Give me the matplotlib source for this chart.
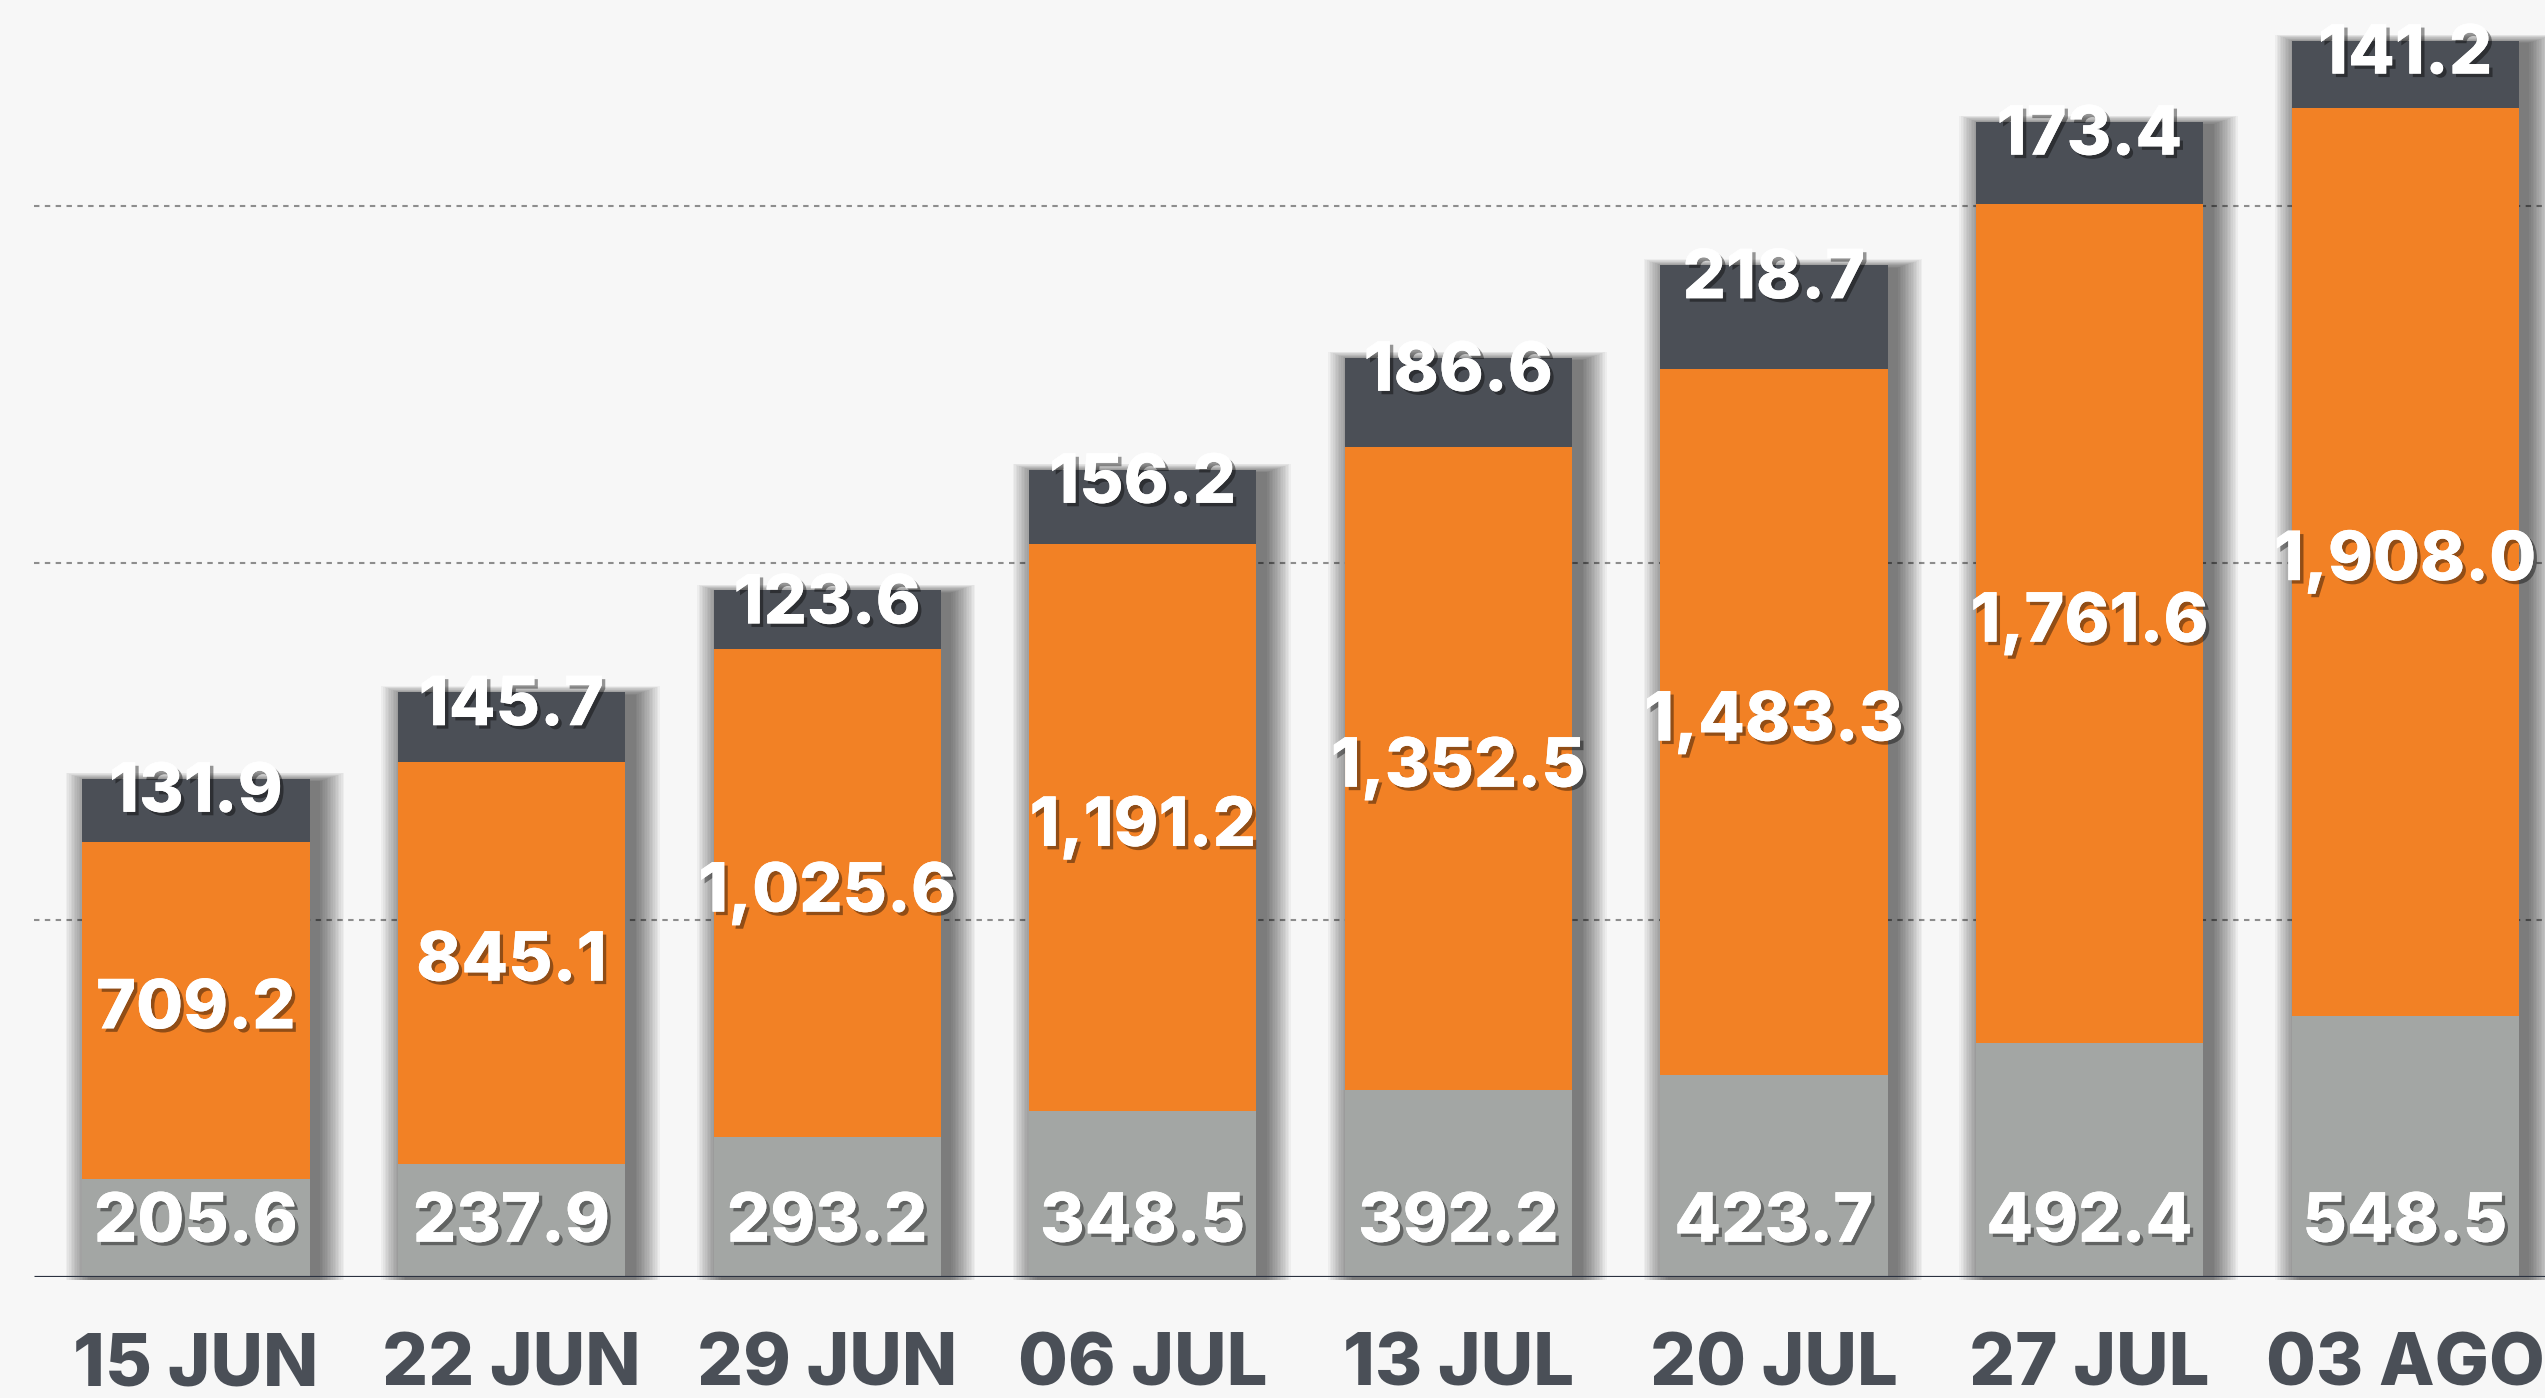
import matplotlib
matplotlib.use("Agg")
import matplotlib.pyplot as plt
import matplotlib.patheffects as pe
import numpy as np

categories = ["15 JUN", "22 JUN", "29 JUN", "06 JUL", "13 JUL", "20 JUL", "27 JUL", "03 AGO"]
bottom_vals = [205.6, 237.9, 293.2, 348.5, 392.2, 423.7, 492.4, 548.5]
middle_vals = [709.2, 845.1, 1025.6, 1191.2, 1352.5, 1483.3, 1761.6, 1908.0]
top_vals = [131.9, 145.7, 123.6, 156.2, 186.6, 218.7, 173.4, 141.2]
grid_vals = [750, 1500, 2250]

C_BOTTOM = "#a3a6a4"
C_MIDDLE = "#f28125"
C_TOP = "#4b4f56"
C_BG = "#f7f7f7"
C_TICK = "#4a4f57"

plt.rcParams['font.family'] = ['Inter', 'DejaVu Sans']

W, H = 2545, 1398
fig = plt.figure(figsize=(W / 100, H / 100), dpi=100, facecolor=C_BG)
base_px = 1277
ax = fig.add_axes([0, (H - base_px) / H, 1, base_px / H])
ax.set_facecolor(C_BG)

x = np.arange(len(categories))
b = np.array(bottom_vals)
m = np.array(middle_vals)
t = np.array(top_vals)
tot = b + m + t

px_per_x = 315.6
x0_px = 196
ax.set_xlim(-x0_px / px_per_x, (W - x0_px) / px_per_x)
ax.set_ylim(0, 2683)
ypx = 2683 / base_px  # data units per pixel
xpx = 1 / px_per_x

width = 0.72

# soft drop shadow (layered translucent bars)
for k in range(16):
    e = (k + 1) * 1.6
    ax.bar(x + 9 * xpx, tot + e * 0.35 * ypx, width=width + 2 * e * xpx,
           bottom=-3 * ypx, color="black", alpha=0.04, linewidth=0,
           zorder=1, clip_on=False)

ax.bar(x, b, width=width, color=C_BOTTOM, linewidth=0, zorder=3)
ax.bar(x, m, width=width, bottom=b, color=C_MIDDLE, linewidth=0, zorder=3)
ax.bar(x, t, width=width, bottom=b + m, color=C_TOP, linewidth=0, zorder=3)

# grid and baseline
xl = -0.5 - 4 * xpx
ax.hlines(grid_vals, xl, 8, colors="#8d8d8d", linewidth=1.5,
          linestyles=(0, (2.6, 2.6)), zorder=0.5)
ax.hlines([0], xl, 8, colors="#2b3240", linewidth=2.3, zorder=4)

fx = [pe.withSimplePatchShadow(offset=(2.5, -2.5), shadow_rgbFace="black", alpha=0.4),
      pe.Normal()]
fs = 49
for i in range(len(x)):
    ax.text(x[i], tot[i] - 15 * ypx, f"{t[i]:,.1f}", ha="center", va="center",
            color="white", fontsize=fs, fontweight="heavy", zorder=5, path_effects=fx)
    ax.text(x[i], b[i] + m[i] / 2, f"{m[i]:,.1f}", ha="center", va="center",
            color="white", fontsize=fs, fontweight="heavy", zorder=5, path_effects=fx)
    ax.text(x[i], 112, f"{b[i]:,.1f}", ha="center", va="center",
            color="white", fontsize=fs, fontweight="heavy", zorder=5, path_effects=fx)

ax.set_xticks(x)
ax.set_xticklabels(categories, fontsize=52, fontweight="heavy", color=C_TICK)
ax.tick_params(axis="x", length=0, pad=40)
ax.set_yticks([])
for s in ax.spines.values():
    s.set_visible(False)

fig.savefig("out.png", dpi=100, facecolor=C_BG)
